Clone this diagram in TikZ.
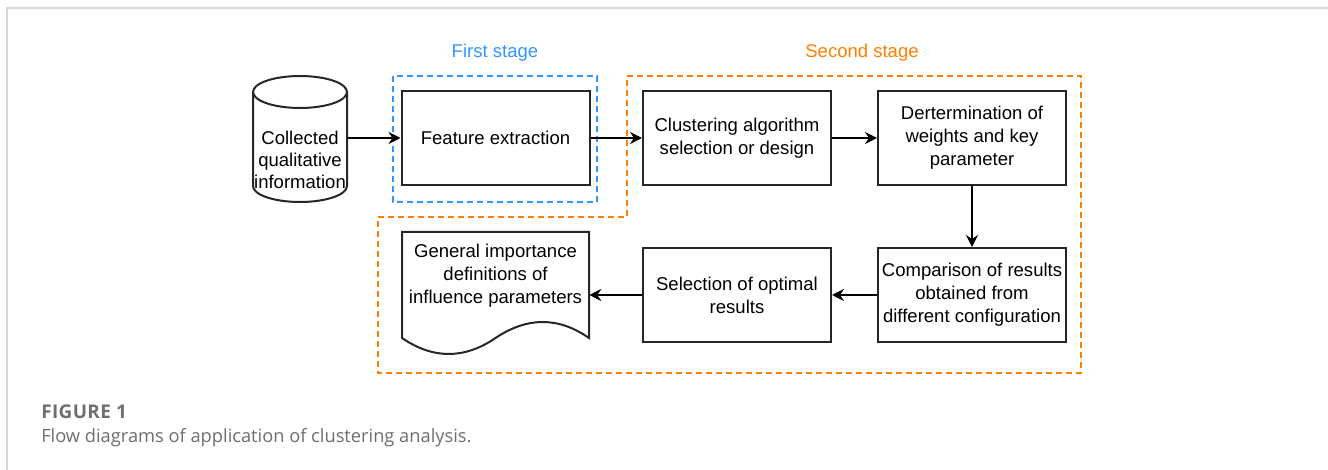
\documentclass[tikz,border=0pt]{standalone}
\usepackage{fontspec}
\setmainfont{Liberation Sans}
\newfontfamily\capfont{Open Sans}
\newfontfamily\capboldfont{Open Sans}[LetterSpace=2]
\usetikzlibrary{arrows.meta}
\definecolor{stageblue}{RGB}{51,150,255}
\definecolor{stageorange}{RGB}{255,128,0}
\definecolor{framegray}{RGB}{215,215,215}
\definecolor{capgray}{RGB}{110,110,110}
\tikzset{
  procbox/.style={draw=black!85, line width=1.5pt, minimum width=141pt, minimum height=70.5pt,
    align=center, inner sep=0pt, font=\fontsize{13.9}{17.3}\selectfont},
  arr/.style={line width=1.5pt, -{Stealth[length=9pt,width=9pt,inset=3pt]}},
  stagedash/.style={line width=1.5pt, dash pattern=on 4.5pt off 3pt},
  stagelabel/.style={anchor=base, font=\fontsize{13.9}{17}\selectfont},
  shapeline/.style={draw=black!85, line width=1.5pt}
}
\begin{document}
\begin{tikzpicture}[x=0.75pt,y=-0.75pt]
\useasboundingbox (0,0) rectangle (1328,470);
% page frame
\draw[framegray, line width=1.5pt] (7,470) -- (7,8) -- (1328,8);
% stage boxes
\draw[stageblue, stagedash] (393,76) rectangle (597,202);
\draw[stageorange, stagedash] (627,76) -- (1081,76) -- (1081,373) -- (378,373) -- (378,217) -- (627,217) -- cycle;
\node[stagelabel, text=stageblue] (l1) at (495,58) {First stage};
\node[stagelabel, text=stageorange] (l2) at (862,58) {Second stage};
% cylinder
\node[inner sep=0pt, minimum width=70.5pt, minimum height=94.5pt] (db) at (300,139) {};
\draw[shapeline] (253,92) -- (253,186) .. controls (253,194.84) and (274.04,202) .. (300,202)
  .. controls (325.96,202) and (347,194.84) .. (347,186) -- (347,92);
\draw[shapeline] (300,92) ellipse (47 and 16);
\node[align=center, inner sep=0pt, font=\fontsize{13.9}{16.5}\selectfont] (dbtext) at (300,160) {Collected\\qualitative\\information};
% boxes
\node[procbox] (feat) at (495.5,138) {Feature extraction};
\node[procbox] (clus) at (737,138) {Clustering algorithm\\selection or design};
\node[procbox] (det) at (972,138) {Dertermination of\\weights and key\\parameter};
\node[procbox] (comp) at (972,295) {Comparison of results\\obtained from\\different configuration};
\node[procbox] (sel) at (737,295) {Selection of optimal\\results};
% document
\node[inner sep=0pt, minimum width=140.25pt, minimum height=79.5pt] (doc) at (495.5,285) {};
\draw[shapeline] (402,232) -- (589,232) -- (589,338)
  .. controls (558.5,316.7) and (527.3,316.7) .. (495.5,338)
  .. controls (464.3,359.3) and (433.2,359.3) .. (402,338) -- cycle;
\node[align=center, inner sep=0pt, font=\fontsize{13.9}{17.3}\selectfont] (doctext) at (495.5,276) {General importance\\definitions of\\influence parameters};
% connectors
\draw[arr] (feat.west -| db.east) -- (feat.west);
\draw[arr] (feat.east) -- (clus.west);
\draw[arr] (clus.east) -- (det.west);
\draw[arr] (det.south) -- (comp.north);
\draw[arr] (comp.west) -- (sel.west -| sel.east);
\draw[arr] (sel.west) -- (sel.west -| doc.east);
% caption
\node[anchor=base west, inner sep=0pt, text=capgray, font=\capboldfont\bfseries\fontsize{14.2}{16}\selectfont] (cap1) at (41,418) {FIGURE 1};
\node[anchor=base west, inner sep=0pt, text=capgray, font=\capfont\fontsize{13.7}{16}\selectfont] (cap2) at (41,442) {Flow diagrams of application of clustering analysis.};
\end{tikzpicture}
\end{document}
